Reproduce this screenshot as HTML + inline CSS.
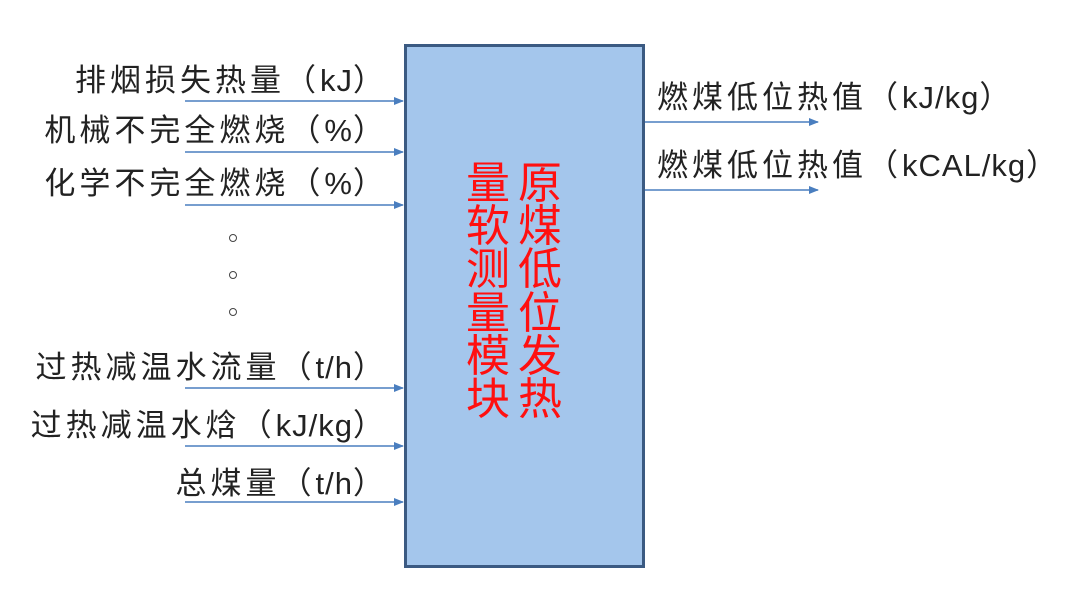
<!DOCTYPE html>
<html><head><meta charset="utf-8"><style>
body{margin:0;width:1080px;height:603px;background:#fff;position:relative;overflow:hidden;font-family:"Liberation Sans","Noto Sans CJK SC",sans-serif}
.l{position:absolute;font-size:31px;letter-spacing:4px;color:#222;line-height:36px;white-space:nowrap}
.l span{letter-spacing:1px}
.r{right:692px;text-align:right}
.box{position:absolute;left:404px;top:44px;width:235px;height:518px;background:#a4c6ec;border:3px solid #3b5a82;box-sizing:content-box}
.red{position:absolute;color:#ff1010;font-size:44px;line-height:43.2px;width:46px;text-align:center}
.dot{position:absolute;width:6px;height:6px;border:1.5px solid #444;border-radius:50%}
</style></head><body>
<svg style="position:absolute;left:0;top:0" width="1080" height="603">
<defs><marker id="a" markerWidth="10" markerHeight="8" refX="9" refY="4" orient="auto" markerUnits="userSpaceOnUse"><path d="M0,0L10,4L0,8z" fill="#4a7ebf"/></marker></defs>
<g stroke="#4a7ebf" stroke-width="1.5" marker-end="url(#a)">
<line x1="185" y1="101" x2="403" y2="101"/>
<line x1="185" y1="152" x2="403" y2="152"/>
<line x1="185" y1="205" x2="403" y2="205"/>
<line x1="185" y1="388" x2="403" y2="388"/>
<line x1="185" y1="446" x2="403" y2="446"/>
<line x1="185" y1="502" x2="403" y2="502"/>
<line x1="638" y1="122" x2="818" y2="122"/>
<line x1="638" y1="190" x2="818" y2="190"/>
</g></svg>
<div class="box"></div>
<div class="l r" style="top:63px">排烟损失热量（<span>kJ</span>）</div>
<div class="l r" style="top:113px">机械不完全燃烧（<span>%</span>）</div>
<div class="l r" style="top:166px">化学不完全燃烧（<span>%</span>）</div>
<div class="dot" style="left:229px;top:234px"></div>
<div class="dot" style="left:229px;top:271px"></div>
<div class="dot" style="left:229px;top:308px"></div>
<div class="l r" style="top:350px">过热减温水流量（<span>t/h</span>）</div>
<div class="l r" style="top:408px">过热减温水焓（<span>kJ/kg</span>）</div>
<div class="l r" style="top:466px">总煤量（<span>t/h</span>）</div>
<div class="l" style="left:657px;top:80px">燃煤低位热值（<span>kJ/kg</span>）</div>
<div class="l" style="left:657px;top:148px">燃煤低位热值（<span>kCAL/kg</span>）</div>
<div class="red" style="left:465px;top:162px">量<br>软<br>测<br>量<br>模<br>块</div>
<div class="red" style="left:517px;top:162px">原<br>煤<br>低<br>位<br>发<br>热</div>
</body></html>
